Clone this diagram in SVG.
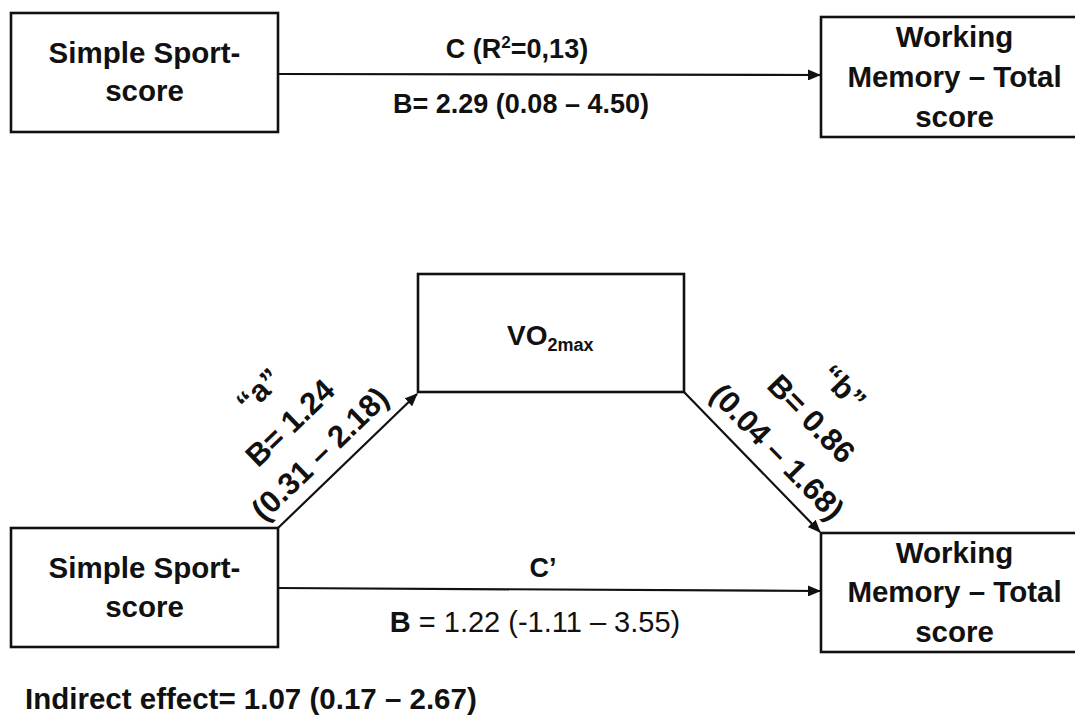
<svg xmlns="http://www.w3.org/2000/svg" width="1075" height="715" viewBox="0 0 1075 715">
<style>
.box{fill:#fff;stroke:#111;stroke-width:2.6}
.t{font-family:"Liberation Sans",Arial,sans-serif;font-weight:bold;fill:#111;text-anchor:middle}
.bx{font-size:29.5px}
.lb{font-size:27px}
.rl{font-size:31px}
.n{font-weight:normal}
.c{fill:none;stroke:#111;stroke-width:2.2}
</style>
<defs>
<marker id="ah" markerUnits="userSpaceOnUse" markerWidth="13" markerHeight="11" refX="12" refY="5.5" orient="auto">
<path d="M0,0 L13,5.5 L0,11 z" fill="#111"/>
</marker>
</defs>
<rect width="1075" height="715" fill="#fff"/>
<g id="connectors">
<line class="c" x1="278" y1="74" x2="820" y2="75" marker-end="url(#ah)"/>
<line class="c" x1="278" y1="528" x2="417" y2="394" marker-end="url(#ah)"/>
<line class="c" x1="684" y1="392" x2="820" y2="532" marker-end="url(#ah)"/>
<line class="c" x1="278" y1="588" x2="820" y2="591" marker-end="url(#ah)"/>
<text class="t lb" x="517" y="58">C (R<tspan font-size="17" dy="-10">2</tspan><tspan dy="10">=0,13)</tspan></text>
<text class="t lb" x="521" y="113">B= 2.29 (0.08 – 4.50)</text>
<text class="t lb" x="543" y="577">C’</text>
<text class="t" x="535" y="632" style="font-size:29px">B<tspan class="n"> = 1.22 (-1.11 – 3.55)</tspan></text>
<g transform="translate(336.3,470.8) rotate(-44)">
<text class="t rl" x="0" y="-101">“a”</text>
<text class="t rl" x="0" y="-56">B= 1.24</text>
<text class="t rl" x="0" y="-13">(0.31 – 2.18)</text>
</g>
<g transform="translate(759.3,469.4) rotate(45.8)">
<text class="t rl" x="0" y="-106.5">“b”</text>
<text class="t rl" x="0" y="-62">B= 0.86</text>
<text class="t rl" x="0" y="-14.6">(0.04 – 1.68)</text>
</g>
</g>
<g id="sport1">
<rect class="box" x="11" y="13" width="267" height="119"/>
<text class="t bx" x="144.5" y="63">Simple Sport-</text>
<text class="t bx" x="144.5" y="101">score</text>
</g>
<g id="wm1">
<rect class="box" x="821" y="17" width="262" height="120"/>
<text class="t bx" x="954.5" y="47">Working</text>
<text class="t bx" x="954.5" y="87">Memory – Total</text>
<text class="t bx" x="954.5" y="127">score</text>
</g>
<g id="vo2">
<rect class="box" x="418" y="274" width="266" height="118"/>
<text class="t" x="507" y="345" style="text-anchor:start;font-size:28px">VO<tspan font-size="18" dy="6">2max</tspan></text>
</g>
<g id="sport2">
<rect class="box" x="11" y="528" width="267" height="119"/>
<text class="t bx" x="144.5" y="578">Simple Sport-</text>
<text class="t bx" x="144.5" y="617">score</text>
</g>
<g id="wm2">
<rect class="box" x="821" y="533" width="262" height="119"/>
<text class="t bx" x="954.5" y="563">Working</text>
<text class="t bx" x="954.5" y="602">Memory – Total</text>
<text class="t bx" x="954.5" y="642">score</text>
</g>
<g id="indirect">
<text class="t" x="25" y="709" style="text-anchor:start;font-size:29.5px">Indirect effect= 1.07 (0.17 – 2.67)</text>
</g>
</svg>
